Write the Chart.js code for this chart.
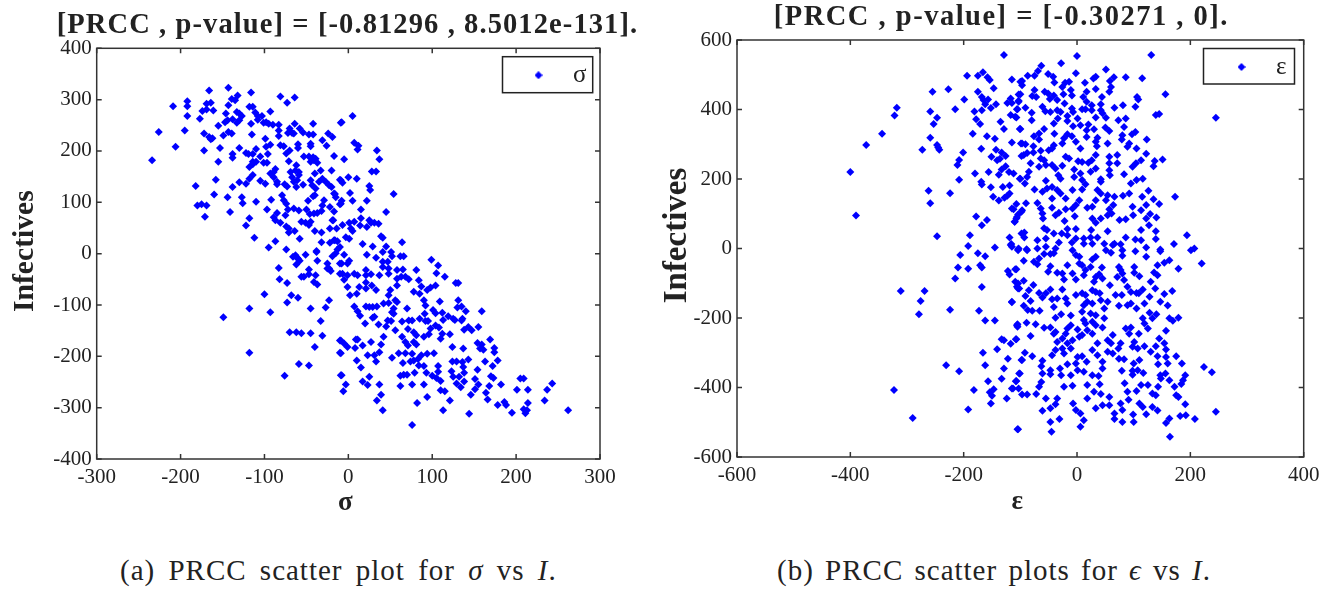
<!DOCTYPE html>
<html><head><meta charset="utf-8">
<script src="https://cdn.jsdelivr.net/npm/chart.js@4"></script>
<style>
html,body{margin:0;padding:0;background:#fff;width:1338px;height:592px;overflow:hidden}
canvas{position:absolute;top:0}
.cap{position:absolute;top:553px;font:29px/34px "Liberation Serif",serif;letter-spacing:1px;color:#222;white-space:nowrap}
</style></head><body>
<canvas id="a" width="696" height="530" style="left:0"></canvas>
<canvas id="b" width="678" height="530" style="left:662px"></canvas>
<div class="cap" style="left:120px;word-spacing:5px">(a) PRCC scatter plot for <i>σ</i> vs <i>I</i>.</div>
<div class="cap" style="left:777px;word-spacing:3px">(b) PRCC scatter plots for <i>ϵ</i> vs <i>I</i>.</div>
<script>
const sigmaTitle = "[PRCC , p-value] = [-0.81296 , 8.5012e-131].";
const epsilonTitle = "[PRCC , p-value] = [-0.30271 , 0].";
const yAxisLabel = "Infectives";
const sigmaTicksX = [-300,-200,-100,0,100,200,300];
const sigmaTicksY = [-400,-300,-200,-100,0,100,200,300,400];
const epsilonTicksX = [-600,-400,-200,0,200,400];
const epsilonTicksY = [-600,-400,-200,0,200,400,600];

const sigmaPoints = [[-234,182],[-226,237],[-209,287],[-206,208],[-195,240],[-192,297],[-192,287],[-192,268],[-182,132],[-180,94],[-175,96],[-169,94],[-171,72],[-160,115],[-158,144],[-155,179],[-153,206],[-172,201],[-172,234],[-177,263],[-174,278],[-169,281],[-169,292],[-164,294],[-166,318],[-161,279],[-166,227],[-164,223],[-162,225],[-155,249],[-149,230],[-147,256],[-146,273],[-144,260],[-143,289],[-139,301],[-135,299],[-132,308],[-143,323],[-143,237],[-139,234],[-138,262],[-133,276],[-130,273],[-127,268],[-133,255],[-130,260],[-138,194],[-138,187],[-144,110],[-141,81],[-138,130],[-130,139],[-127,110],[-126,98],[-122,55],[-118,69],[-112,31],[-110,101],[-130,206],[-122,196],[-119,194],[-114,194],[-116,314],[-118,286],[-114,286],[-111,275],[-116,253],[-115,232],[-108,261],[-108,268],[-103,268],[-110,204],[-105,189],[-110,179],[-114,179],[-118,169],[-114,174],[-114,153],[-118,146],[-122,136],[-105,142],[-99,136],[-99,224],[-101,255],[-98,256],[-95,253],[-90,251],[-93,277],[-83,251],[-83,240],[-83,229],[-98,208],[-93,212],[-96,194],[-101,177],[-97,177],[-93,156],[-89,159],[-87,165],[-89,149],[-85,140],[-85,135],[-92,105],[-97,86],[-85,79],[-89,71],[-87,65],[-81,60],[-95,12],[-87,24],[-74,8],[-76,135],[-73,131],[-79,114],[-77,104],[-74,97],[-72,86],[-75,75],[-74,53],[-71,49],[-71,41],[-64,44],[-58,29],[-81,211],[-77,209],[-74,195],[-70,201],[-71,180],[-81,306],[-73,294],[-64,304],[-72,235],[-70,244],[-67,235],[-65,234],[-64,253],[-58,244],[-54,236],[-47,232],[-42,232],[-42,253],[-60,213],[-60,206],[-45,214],[-45,209],[-31,221],[-24,234],[-19,227],[-26,210],[-17,190],[-53,189],[-47,189],[-42,188],[-39,185],[-37,177],[-62,172],[-45,179],[-41,182],[-33,162],[-20,162],[-69,159],[-63,162],[-59,159],[-59,153],[-67,149],[-65,140],[-61,143],[-62,130],[-54,134],[-45,143],[-43,133],[-39,127],[-40,114],[-42,112],[-40,156],[-35,140],[-31,146],[-27,140],[-23,133],[-20,130],[-17,117],[-15,110],[-48,103],[-65,88],[-59,84],[-50,86],[-46,77],[-41,78],[-37,79],[-32,83],[-29,104],[-31,94],[-22,91],[-17,82],[-19,65],[-56,62],[-51,60],[-47,56],[-45,62],[-40,44],[-32,41],[-22,49],[-14,49],[-32,22],[-22,21],[-17,26],[-13,24],[-38,5],[-51,-2],[-63,-3],[-60,-10],[-9,255],[-9,143],[-9,97],[-10,13],
[5,268],[-8,256],[7,216],[12,210],[11,203],[34,201],[37,184],[-5,184],[28,160],[33,160],[0,149],[10,146],[-10,144],[-7,138],[25,132],[26,124],[2,118],[-16,116],[54,116],[-8,103],[5,103],[22,103],[-10,96],[15,86],[45,81],[15,69],[-18,65],[-7,56],[1,60],[7,62],[14,55],[25,65],[22,52],[27,60],[31,60],[36,58],[3,49],[5,44],[-3,32],[1,29],[39,34],[41,31],[-16,26],[17,19],[29,14],[45,14],[64,22],[-13,8],[-5,-2],[22,-2],[41,3],[51,3],[33,-8],[52,-5],[62,-5],[66,-5],[99,-12],
[107,-23],[105,-38],[115,-45],[128,-57],[131,-57],[-8,-19],[1,-14],[-1,-19],[-7,-39],[-1,-42],[-5,-51],[-1,-65],[2,-81],[10,-78],[7,-39],[11,-42],[21,-32],[21,-42],[27,-40],[21,-56],[21,-68],[13,-65],[28,-62],[33,-71],[41,-16],[41,-26],[47,-16],[48,-29],[37,-42],[48,-39],[58,-32],[65,-31],[58,-62],[58,-49],[63,-45],[68,-45],[72,-50],[81,-32],[84,-52],[87,-64],[78,-74],[85,-78],[94,-71],[98,-66],[104,-62],[50,-71],[48,-81],[7,-103],[11,-112],[14,-121],[21,-103],[25,-104],[29,-104],[34,-103],[42,-97],[48,-96],[56,-91],[58,-94],[54,-107],[52,-114],[54,-117],[70,-107],[90,-91],[92,-101],[109,-93],[131,-91],[130,-105],[135,-103],[140,-112],[159,-112],[91,-117],[101,-110],[104,-116],[112,-115],[119,-122],[29,-125],[31,-123],[20,-136],[36,-138],[47,-130],[51,-131],[45,-142],[64,-132],[72,-130],[76,-130],[85,-127],[92,-131],[95,-131],[71,-147],[56,-149],[78,-153],[81,-159],[113,-129],[125,-127],[127,-129],[136,-127],[135,-130],[98,-146],[104,-140],[108,-144],[112,-156],[110,-166],[96,-157],[90,-162],[121,-157],[138,-148],[143,-143],[147,-149],[155,-143],[154,-174],[159,-177],[161,-187],[157,-185],[169,-167],[174,-184],[174,-192],[178,-208],[163,-210],[172,-219],[154,-226],[124,-182],[137,-185],[124,-210],[129,-210],[136,-211],[143,-206],[137,-221],[123,-229],[138,-232],[125,-240],[132,-240],[129,-253],[138,-249],[134,-260],[151,-244],[155,-255],[151,-264],[146,-275],[170,-239],[173,-242],[168,-258],[182,-255],[164,-271],[166,-284],[178,-295],[186,-289],[188,-295],[195,-310],[205,-243],[209,-243],[201,-265],[214,-265],[214,-291],[209,-303],[213,-305],[211,-311],[234,-286],[237,-265],[243,-253],[262,-305],[144,-312],[113,-305],[121,-286],[110,-266],[115,-268],[94,-279],[82,-291],[76,-334],[76,-255],[90,-255],[62,-258],[62,-238],[66,-236],[70,-236],[79,-232],[93,-232],[100,-238],[105,-242],[110,-248],[107,-230],[107,-219],[65,-213],[52,-203],[60,-194],[68,-194],[76,-195],[94,-195],[102,-194],[74,-210],[78,-208],[83,-205],[87,-198],[84,-218],[90,-219],[81,-177],[78,-172],[68,-172],[71,-179],[64,-162],[42,-162],[39,-177],[37,-192],[33,-210],[31,-198],[23,-198],[27,-172],[17,-179],[9,-167],[11,-167],[8,-184],[10,-208],[15,-222],[-9,-169],[-5,-175],[-1,-182],[-9,-194],[-8,-237],[-3,-255],[-6,-268],[17,-249],[25,-240],[23,-256],[37,-255],[39,-275],[34,-286],[41,-305],
[-149,-124],[-118,-107],[-118,-193],[-100,-79],[-93,-114],[-83,-28],[-82,-50],[-73,-57],[-68,-81],[-73,-95],[-60,-86],[-70,-153],[-62,-153],[-56,-155],[-45,-155],[-76,-238],[-59,-215],[-47,-218],[-40,-182],[-31,-160],[-33,-131],[-45,-107],[-27,-105],[-23,-91],[-66,-6],[-61,-8],[-58,-14],[-62,-21],[-38,3],[-37,-14],[-47,-31],[-47,-40],[-39,-42],[-56,-45],[-53,-45],[-41,-55],[-37,-60],[-25,-19],[-23,-29],[-21,-34],[-25,-29],[-19,-5],[-15,1],[-10,-19],[-10,-39],[-10,-169],[-10,-193],[-9,-237]];

const epsilonPoints = [[-400,220],[-390,95],[-372,298],[-344,330],[-322,383],[-318,405],[-273,284],[-259,319],[-259,394],[-247,376],[-253,358],[-255,451],[-247,298],[-245,291],[-243,284],[-262,166],[-259,130],[-224,159],[-247,35],[-227,458],[-194,497],[-175,497],[-166,507],[-158,493],[-154,485],[-129,557],[-147,461],[-115,486],[-175,451],[-199,429],[-215,401],[-168,436],[-165,427],[-157,429],[-162,415],[-152,404],[-143,415],[-181,394],[-168,398],[-178,372],[-171,358],[-135,365],[-129,344],[-184,330],[-159,323],[-145,316],[-201,276],[-169,287],[-208,255],[-211,240],[-151,264],[-143,284],[-133,276],[-126,266],[-141,254],[-136,258],[-126,237],[-133,227],[-138,212],[-180,216],[-156,220],[-208,198],[-169,192],[-168,184],[-152,176],[-131,177],[-119,181],[-148,149],[-138,138],[-128,146],[-123,152],[-119,158],[-112,216],[-120,220],[-178,92],[-159,82],[-168,67],[-189,38],[-192,7],[-145,3],[-119,32],[-116,13],[-107,128],[-112,113],[-104,98],[-107,86],[-110,77],[-101,201],[-123,419],[-117,432],[-115,419],[-103,422],[-105,401],[-117,384],[-109,379],[-101,344],[-115,305],[-99,302],[-98,266],[-100,480],[-103,443],[-98,106],[-98,43],[-104,-2],
[0,554],[131,557],[-28,533],[-63,526],[-69,511],[-75,497],[-87,497],[-97,482],[-97,470],[-51,502],[-42,494],[-40,478],[-2,504],[-14,480],[-21,477],[-26,465],[14,477],[51,515],[33,494],[29,489],[65,493],[58,482],[86,493],[115,490],[156,444],[60,465],[57,451],[33,459],[17,451],[44,436],[11,436],[17,422],[26,412],[42,415],[106,436],[108,429],[-11,456],[-9,440],[-24,444],[-41,440],[-35,427],[-48,430],[-57,451],[-51,446],[-75,456],[-79,439],[-72,436],[-100,444],[-103,425],[-22,417],[-61,408],[-56,395],[-47,393],[-35,398],[-29,393],[-9,403],[-7,393],[9,401],[15,401],[26,398],[42,398],[45,389],[66,405],[81,412],[103,408],[139,384],[145,387],[245,376],[-106,401],[-91,405],[-107,377],[-80,391],[-80,369],[-41,360],[-34,374],[-17,381],[-17,367],[1,374],[33,377],[51,376],[86,374],[73,369],[83,350],[-7,352],[6,355],[20,357],[17,340],[30,343],[50,348],[57,338],[-100,344],[-58,344],[-67,331],[-76,323],[-67,314],[-40,330],[-23,317],[-17,329],[-9,323],[-2,307],[17,321],[36,319],[33,307],[80,326],[79,314],[97,329],[103,335],[123,314],[92,302],[89,293],[54,302],[35,294],[6,288],[105,288],[-26,302],[-41,297],[-50,283],[-44,288],[-97,302],[-91,300],[-77,294],[-64,281],[-77,276],[-94,269],[-88,275],[-20,264],[-14,259],[33,269],[26,254],[20,247],[2,251],[9,249],[57,264],[71,269],[113,254],[122,273],[137,252],[135,237],[151,256],[98,235],[104,245],[71,245],[57,245],[57,225],[58,211],[83,214],[95,187],[105,197],[116,201],[33,230],[24,221],[42,199],[-5,227],[-5,206],[6,216],[9,197],[-26,238],[-33,211],[-29,201],[-64,259],[-58,254],[-82,245],[-67,235],[-55,240],[-44,240],[-38,230],[-85,221],[-88,206],[-92,187],[-100,201],[-55,195],[-75,170],[-61,163],[-53,173],[-44,177],[-35,168],[-29,158],[-44,144],[-20,144],[-8,168],[9,170],[15,185],[42,192],[36,168],[42,158],[54,153],[66,149],[51,139],[81,152],[92,158],[115,149],[126,166],[135,142],[173,149],[145,128],[122,125],[98,120],[113,110],[33,139],[27,120],[18,117],[57,113],[-2,125],[4,139],[-8,115],[64,125],[-20,113],[-44,117],[-70,131],[-64,115],[-61,101],[-60,86],[-38,96],[-32,103],[-4,93],[-22,79],[-90,130],[-97,110],[-106,91],[-110,77],[-115,115],[27,86],[33,74],[42,86],[54,96],[61,101],[75,82],[86,84],[99,96],[122,86],[129,99],[140,89],[127,67],[54,50],[113,53],[139,50],[194,38],[-58,58],[-53,53],[-93,46],[-93,32],[-70,24],[-55,29],[-41,43],[-27,43],[-17,38],[-17,56],[-2,56],[-2,29],[12,29],[24,32],[36,32],[25,53],[86,32],[103,26],[113,24],[139,27],[171,13],[207,0],[201,-5],[-32,17],[-9,17],[12,14],[27,14],[48,14],[66,14],[77,12],[-89,-2],[-115,5],[-103,0],[-70,0],[-55,5],[-38,0],[122,3],[147,-3],
[179,-58],[220,-43],[147,-8],[122,-24],[103,-8],[80,-5],[80,-21],[63,10],[51,-5],[60,-12],[33,-24],[27,-32],[-8,-5],[-2,-19],[4,-24],[-41,-14],[-47,-16],[-58,-16],[-67,-29],[-88,-5],[-94,-35],[-76,-38],[-70,-45],[-47,-51],[-51,-67],[-35,-70],[-17,-48],[-26,-72],[-23,-89],[4,-43],[9,-48],[15,-62],[24,-53],[-8,-72],[-2,-89],[12,-77],[44,-55],[39,-74],[33,-82],[30,-96],[45,-86],[74,-53],[77,-62],[71,-82],[80,-72],[101,-53],[101,-70],[110,-80],[58,-106],[83,-91],[89,-110],[95,-125],[105,-128],[116,-118],[130,-96],[138,-115],[136,-69],[142,-77],[142,-48],[154,-41],[163,-34],[168,-122],[154,-131],[128,-139],[119,-158],[147,-153],[160,-164],[109,-129],[105,-173],[95,-158],[89,-163],[74,-165],[79,-134],[68,-134],[-115,-153],[-104,-101],[-104,-115],[-94,-93],[-109,-60],[-85,-120],[-91,-137],[-77,-105],[-67,-128],[-61,-141],[-55,-129],[-47,-118],[-44,-146],[-35,-144],[-26,-118],[-82,-151],[-94,-165],[-87,-177],[-79,-179],[-66,-179],[-41,-168],[-38,-199],[-28,-189],[-20,-144],[-17,-158],[-11,-193],[-2,-134],[9,-129],[15,-134],[27,-120],[33,-125],[40,-129],[18,-153],[27,-158],[12,-163],[42,-149],[54,-153],[48,-173],[9,-182],[24,-187],[33,-192],[48,-201],[-106,-221],[-89,-214],[-73,-218],[-58,-228],[-82,-252],[-107,-261],[-47,-227],[-41,-245],[-38,-240],[-11,-221],[-17,-230],[-20,-245],[1,-233],[12,-206],[15,-216],[9,-249],[4,-254],[27,-211],[33,-221],[45,-227],[18,-235],[27,-245],[-35,-269],[-26,-259],[-17,-273],[-8,-264],[-38,-292],[-26,-288],[-11,-288],[-44,-307],[-79,-310],[-92,-300],[-97,-321],[-61,-323],[-63,-339],[-23,-302],[-17,-333],[-2,-331],[-47,-350],[-30,-345],[-61,-360],[-47,-362],[-28,-365],[-11,-365],[1,-312],[9,-310],[17,-326],[1,-350],[12,-355],[45,-326],[45,-345],[27,-365],[38,-367],[27,-292],[36,-273],[36,-307],[54,-297],[63,-302],[73,-288],[54,-264],[63,-249],[60,-273],[77,-273],[86,-230],[95,-227],[92,-245],[109,-245],[101,-269],[107,-288],[98,-283],[74,-317],[83,-319],[100,-331],[110,-321],[79,-352],[98,-352],[107,-350],[117,-358],[98,-363],[119,-281],[139,-281],[130,-297],[142,-310],[157,-291],[157,-312],[145,-259],[154,-273],[157,-237],[116,-201],[125,-230],[119,-216],[133,-201],[140,-189],[128,-185],[163,-201],[169,-208],[179,-199],[143,-333],[160,-331],[147,-365],[156,-360],[175,-310],[185,-331],[224,-341],[238,-356],[191,-365],[187,-379],[184,-390],[163,-379],[172,-398],[148,-374],[143,-398],[133,-417],[139,-422],[125,-393],[113,-393],[105,-410],[84,-388],[89,-412],[91,-435],[110,-446],[116,-456],[133,-456],[142,-466],[122,-477],[99,-478],[100,-499],[77,-446],[80,-465],[66,-475],[80,-499],[66,-491],[57,-427],[57,-451],[42,-419],[30,-412],[45,-451],[33,-460],[18,-393],[18,-432],[40,-391],[-8,-395],[-23,-398],[-7,-446],[-35,-432],[-38,-448],[-55,-432],[-47,-460],[-61,-467],[-2,-465],[6,-475],[12,-494],[6,-513],[-31,-491],[-47,-499],[-45,-527],[-72,-419],[-67,-398],[-63,-384],[-88,-420],[-97,-420],[-107,-381],[-102,-360],[-115,-403],[-104,-520],[163,-489],[157,-502],[164,-542],[182,-482],[192,-480],[208,-491],[245,-470],[175,-422],[179,-427],[191,-448],
[-206,-19],[-175,-14],[-162,-22],[-210,-55],[-192,-58],[-171,-48],[-168,-55],[-215,-86],[-168,-111],[-311,-122],[-269,-122],[-276,-151],[-279,-189],[-224,-176],[-173,-179],[-162,-207],[-145,-207],[-231,-336],[-208,-353],[-323,-407],[-290,-488],[-182,-407],[-192,-463],[-152,-446],[-166,-300],[-162,-336],[-141,-290],[-133,-261],[-129,-264],[-117,-274],[-108,-261],[-122,-317],[-129,-345],[-133,-375],[-157,-382],[-147,-405],[-154,-414],[-150,-424],[-124,-432],[-113,-403],[-103,-403],[-108,-382],[-101,-360],[-98,-321],[-105,-520],[-122,-65],[-119,-75],[-107,-60],[-117,10],[-104,-5],[-109,-96],[-106,-110],[-102,-115],[-115,-155],[-105,-218],[-105,-225]];

const BLUE = "#0000ff", INK = "#333333", SERIF = "'Liberation Serif', serif";

function diamond(){
  const c = document.createElement("canvas"); c.width = 8; c.height = 8;
  const g = c.getContext("2d"); g.fillStyle = BLUE;
  g.beginPath(); g.moveTo(4,0); g.lineTo(8,4); g.lineTo(4,8); g.lineTo(0,4); g.closePath(); g.fill();
  return c;
}

const boxPlugin = {
  id: "box",
  beforeDraw(chart, args, o){
    const L = chart.legend;
    L.left = o.legend[0] + o.legendShift; L.top = o.legend[1]; L.right = o.legend[2] + o.legendShift; L.bottom = o.legend[3];
    const y = chart.scales.y, x = chart.scales.x;
    if (!y._shifted){
      y._shifted = true;
      const orig = y.drawTitle.bind(y);
      y.drawTitle = function(a){ const c = chart.ctx; c.save(); c.translate(0, o.yTitleShift); orig(a); c.restore(); };
      const origX = x.drawTitle.bind(x);
      x.drawTitle = function(a){ const c = chart.ctx; c.save(); c.translate(-3, 0); origX(a); c.restore(); };
      const tb = chart.titleBlock, drawT = tb.draw.bind(tb);
      tb.draw = function(){ const c = chart.ctx; c.save(); c.translate(o.titleShift, 3); c.letterSpacing = o.titleSpacing; drawT(); c.restore(); };
    }
  },
  afterDatasetsDraw(chart, args, o){
    const {ctx, chartArea:A, scales:{x,y}} = chart;
    ctx.save();
    ctx.strokeStyle = INK; ctx.lineWidth = 1.5;
    ctx.strokeRect(A.left, A.top, A.right-A.left, A.bottom-A.top);
    ctx.beginPath();
    x.ticks.forEach(t => { const p = x.getPixelForValue(t.value);
      ctx.moveTo(p,A.top); ctx.lineTo(p,A.top+5); ctx.moveTo(p,A.bottom); ctx.lineTo(p,A.bottom-5); });
    y.ticks.forEach(t => { const p = y.getPixelForValue(t.value);
      ctx.moveTo(A.left,p); ctx.lineTo(A.left+5,p); ctx.moveTo(A.right,p); ctx.lineTo(A.right-5,p); });
    ctx.stroke();
    ctx.lineWidth = 1.5; ctx.strokeStyle = "#222";
    const l = o.legend;
    ctx.strokeRect(l[0], l[1], l[2]-l[0], l[3]-l[1]);
    ctx.restore();
  }
};

function scatter(id, cfg){
  return new Chart(document.getElementById(id), {
    type: "scatter",
    data: { datasets: [{ label: cfg.label, data: cfg.points.map(p => ({x:p[0], y:p[1]})),
      pointStyle: "rectRot", pointRadius: 4, pointBackgroundColor: BLUE, pointBorderWidth: 0, backgroundColor: BLUE }] },
    plugins: [boxPlugin],
    options: {
      responsive: false, animation: false, events: [],
      layout: { padding: { left: 0, top: 0, right: cfg.rightPad, bottom: 0 } },
      plugins: {
        tooltip: { enabled: false },
        title: { display: true, text: cfg.title, color: "#222",
          font: { family: SERIF, size: 28.5, weight: "bold", lineHeight: 1 },
          padding: cfg.titlePad },
        legend: { display: true, position: "chartArea", align: "start",
          labels: { usePointStyle: true, pointStyle: diamond(), pointStyleWidth: 44, boxHeight: 8, padding: 6, color: "#222",
            font: { family: SERIF, size: 25 } } },
        box: { legend: cfg.legend, legendShift: cfg.legendShift, yTitleShift: cfg.yTitleShift, titleShift: cfg.titleShift, titleSpacing: cfg.titleSpacing }
      },
      scales: {
        x: { type: "linear", min: cfg.ticksX[0], max: cfg.ticksX[cfg.ticksX.length-1],
          afterBuildTicks: s => { s.ticks = cfg.ticksX.map(v => ({value:v})); },
          afterFit: s => { s.height = cfg.xHeight; },
          grid: { display: false, drawTicks: false }, border: { display: false },
          ticks: { padding: 8, color: "#222", maxRotation: 0, font: { family: SERIF, size: 21, lineHeight: 1 } },
          title: { display: true, text: cfg.xLabel, color: "#222", padding: {top: 0, bottom: cfg.xTitleOffset},
            font: { family: SERIF, size: 27, weight: "bold", lineHeight: 1 } } },
        y: { type: "linear", min: cfg.ticksY[0], max: cfg.ticksY[cfg.ticksY.length-1],
          afterBuildTicks: s => { s.ticks = cfg.ticksY.map(v => ({value:v})); },
          afterFit: s => { s.width = cfg.yWidth; },
          grid: { display: false, drawTicks: false }, border: { display: false },
          ticks: { padding: 5, color: "#222", font: { family: SERIF, size: 21, lineHeight: 1 } },
          title: { display: true, text: yAxisLabel, color: "#222", padding: {top: cfg.yTitleOffset, bottom: 0},
            font: { family: SERIF, size: cfg.ySize, weight: "bold", lineHeight: 1 } } }
      }
    }
  });
}

scatter("a", { label:"σ", xLabel:"σ", title:sigmaTitle, points:sigmaPoints, ticksX:sigmaTicksX, ticksY:sigmaTicksY,
  rightPad:96, xHeight:71, yWidth:96.7, titlePad:{top:8.75,bottom:11.05}, titleSpacing:"1.1px", titleShift:47.5,
  legend:[502.5,56.7,592.7,92.7], legendShift:8, yTitleShift:-2.5, yTitleOffset:11, xTitleOffset:13, ySize:29.6 });
scatter("b", { label:"ε", xLabel:"ε", title:epsilonTitle, points:epsilonPoints, ticksX:epsilonTicksX, ticksY:epsilonTicksY,
  rightPad:36.3, xHeight:73, yWidth:75, titlePad:{top:0.75,bottom:10.75}, titleSpacing:"1.5px", titleShift:18.5,
  legend:[541.5,48.5,632.5,84], legendShift:10, yTitleShift:-13, yTitleOffset:-1.5, xTitleOffset:14.5, ySize:33 });
</script>
</body></html>
